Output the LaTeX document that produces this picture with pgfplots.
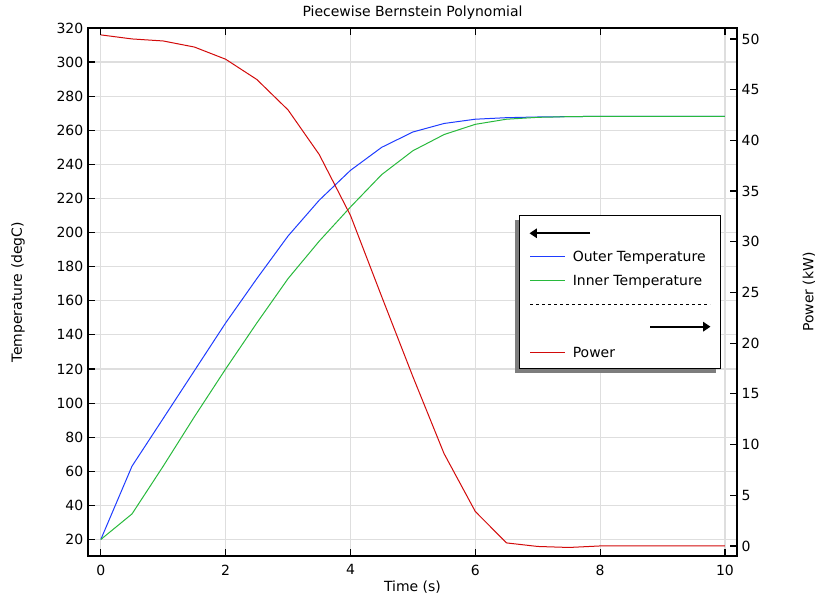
\documentclass[border=0pt]{standalone}
\usepackage{fontspec}
\setmainfont{DejaVu Sans}
\usepackage{pgfplots}
\pgfplotsset{compat=1.18}
\usetikzlibrary{arrows.meta}
\definecolor{cblue}{RGB}{30,60,255}
\definecolor{cgreen}{RGB}{40,185,60}
\definecolor{cred}{RGB}{210,10,10}
\definecolor{cgrid}{RGB}{222,222,222}
\definecolor{cshadow}{RGB}{125,125,125}
\begin{document}
\begin{tikzpicture}[font=\fontsize{10.5}{12.6}\selectfont]
\pgfplotsset{
  every axis/.append style={
    scale only axis, width=486.75pt, height=396pt,
    xmin=-0.205, xmax=10.193,
    tick align=inside, major tick length=5pt,
    /pgf/number format/assume math mode=true,
    axis line style={line width=0.9pt},
    tick style={black, line width=0.9pt},
  },
}
\begin{axis}[
  ymin=10.33, ymax=320,
  xtick={0,2,...,10}, ytick={20,40,...,320},
  xtick pos=both, ytick pos=left,
  grid=major, grid style={cgrid, line width=0.9pt},
  xlabel={Time (s)}, xlabel style={at={(axis description cs:0.5,-0.0587)}, anchor=center},
  ylabel={Temperature (degC)}, ylabel style={at={(axis description cs:-0.108,0.5)}, anchor=center},
  xticklabel style={yshift=-3pt},
]
\coordinate (O) at (rel axis cs:0,0);
\addplot[cblue, line width=0.75pt] coordinates {
(0,20) (0.5,63) (1,91) (1.5,119) (2,147) (2.5,173) (3,198) (3.5,219) (4,236.5) (4.5,250) (5,259) (5.5,264) (6,266.5) (6.5,267.4) (7,267.8) (7.5,268) (8,268.2) (8.5,268.2) (9,268.2) (9.5,268.2) (10,268.2)};
\addplot[cgreen, line width=0.75pt] coordinates {
(0,20) (0.5,35) (1,63) (1.5,92) (2,120) (2.5,147) (3,173) (3.5,195) (4,215) (4.5,234) (5,248) (5.5,257.5) (6,263.5) (6.5,266.5) (7,267.6) (7.5,268) (8,268.2) (8.5,268.2) (9,268.2) (9.5,268.2) (10,268.2)};
\end{axis}
\begin{axis}[
  ymin=-0.99, ymax=51.08,
  axis x line=none, axis y line*=right,
  ytick pos=right, yticklabel pos=right,
  tick align=inside,
  y axis line style={-},
  ytick={0,5,...,50},
  ylabel={Power (kW)}, ylabel style={at={(axis description cs:1.111,0.5)}, anchor=center},
]
\addplot[cred, line width=0.75pt] coordinates {
(0,50.4) (0.5,50.0) (1,49.8) (1.5,49.2) (2,48.0) (2.5,46.0) (3,43.0) (3.5,38.6) (4,32.6) (4.5,24.6) (5,16.7) (5.5,9.1) (6,3.4) (6.5,0.3) (7,-0.05) (7.5,-0.15) (8,0) (8.5,0) (9,0) (9.5,0) (10,0)};
\end{axis}
\begin{scope}[shift={(O)}, x=0.75pt, y=-0.75pt, xshift=-66pt, yshift=417pt]
  % title
  \node[anchor=base, inner sep=0pt] at (412.5,16.8) {Piecewise Bernstein Polynomial};
  % legend
  \fill[cshadow] (515,220.2) rectangle (716.4,372.8);
  \filldraw[fill=white, draw=black, line width=0.9pt] (519.3,215.7) rectangle (720.7,368.3);
  \draw[line width=1.5pt, -{Triangle[length=5.5pt,width=7pt]}] (590,233.3) -- (529.5,233.3);
  \draw[cblue, line width=0.75pt] (530,256.8) -- (565,256.8);
  \node[anchor=base west, inner sep=0pt] at (572.5,261.9) {Outer Temperature};
  \draw[cgreen, line width=0.75pt] (530,280.2) -- (565,280.2);
  \node[anchor=base west, inner sep=0pt] at (572.5,285.3) {Inner Temperature};
  \draw[line width=0.75pt, dash pattern=on 1.9pt off 2.6pt] (530,304.2) -- (710,304.2);
  \draw[line width=1.5pt, -{Triangle[length=5.5pt,width=7pt]}] (650,326.7) -- (710.5,326.7);
  \draw[cred, line width=0.75pt] (530,352.2) -- (565,352.2);
  \node[anchor=base west, inner sep=0pt] at (572.5,357.3) {Power};
  \pgfresetboundingbox
  \useasboundingbox (0,0) rectangle (815,598);
\end{scope}
\end{tikzpicture}
\end{document}
